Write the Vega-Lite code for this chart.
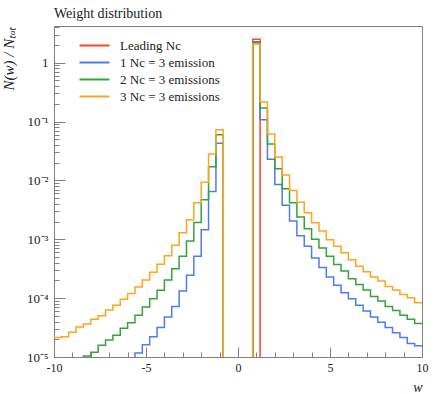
{
  "$schema": "https://vega.github.io/schema/vega-lite/v6.json",
  "width": 368,
  "height": 331,
  "autosize": "none",
  "padding": {"left": 54, "top": 26, "right": 14, "bottom": 37},
  "background": "white",
  "title": {"text": "Weight distribution", "anchor": "start", "frame": "group", "font": "Liberation Serif", "fontSize": 14, "fontWeight": "normal", "offset": 0, "color": "#222222"},
  "config": {"view": {"stroke": "#808080", "strokeWidth": 1}, "font": "Liberation Serif"},
  "data": {"values": [
    {"x": -10, "lead": 1e-7, "one": 1e-7, "two": 1e-7, "three": 2.14e-5},
    {"x": -9.6, "lead": 1e-7, "one": 1e-7, "two": 1e-7, "three": 2.21e-5},
    {"x": -9.2, "lead": 1e-7, "one": 1e-7, "two": 1e-7, "three": 2.63e-5},
    {"x": -8.8, "lead": 1e-7, "one": 1e-7, "two": 1e-7, "three": 3.24e-5},
    {"x": -8.4, "lead": 1e-7, "one": 1e-7, "two": 1.035e-5, "three": 3.63e-5},
    {"x": -8.0, "lead": 1e-7, "one": 1e-7, "two": 1.2e-5, "three": 4.37e-5},
    {"x": -7.6, "lead": 1e-7, "one": 1e-7, "two": 1.58e-5, "three": 5.01e-5},
    {"x": -7.2, "lead": 1e-7, "one": 1e-7, "two": 1.95e-5, "three": 6.31e-5},
    {"x": -6.8, "lead": 1e-7, "one": 1e-7, "two": 2.34e-5, "three": 7.59e-5},
    {"x": -6.4, "lead": 1e-7, "one": 1e-7, "two": 3.09e-5, "three": 9.55e-5},
    {"x": -6.0, "lead": 1e-7, "one": 1e-7, "two": 3.8e-5, "three": 1.2e-4},
    {"x": -5.6, "lead": 1e-7, "one": 1.17e-5, "two": 5.13e-5, "three": 1.55e-4},
    {"x": -5.2, "lead": 1e-7, "one": 1.62e-5, "two": 7.08e-5, "three": 2.04e-4},
    {"x": -4.8, "lead": 1e-7, "one": 2.21e-5, "two": 9.77e-5, "three": 2.75e-4},
    {"x": -4.4, "lead": 1e-7, "one": 3.16e-5, "two": 1.36e-4, "three": 3.76e-4},
    {"x": -4.0, "lead": 1e-7, "one": 4.79e-5, "two": 2.04e-4, "three": 5.25e-4},
    {"x": -3.6, "lead": 1e-7, "one": 7.24e-5, "two": 3.16e-4, "three": 7.94e-4},
    {"x": -3.2, "lead": 1e-7, "one": 1.32e-4, "two": 5.13e-4, "three": 1.29e-3},
    {"x": -2.8, "lead": 1e-7, "one": 2.45e-4, "two": 9.33e-4, "three": 2.14e-3},
    {"x": -2.4, "lead": 1e-7, "one": 5.13e-4, "two": 1.93e-3, "three": 4.17e-3},
    {"x": -2.0, "lead": 1e-7, "one": 1.45e-3, "two": 4.68e-3, "three": 9.33e-3},
    {"x": -1.6, "lead": 1e-7, "one": 6.46e-3, "two": 1.7e-2, "three": 2.82e-2},
    {"x": -1.2, "lead": 1e-7, "one": 4.27e-2, "two": 5.96e-2, "three": 7.24e-2},
    {"x": -0.8, "lead": 1e-7, "one": 1e-7, "two": 1e-7, "three": 1e-7},
    {"x": 0.8, "lead": 2.5, "one": 2.27, "two": 2.19, "three": 2.08},
    {"x": 1.2, "lead": 1e-7, "one": 0.107, "two": 0.17, "three": 0.214},
    {"x": 1.6, "lead": 1e-7, "one": 0.0229, "two": 0.0417, "three": 0.0617},
    {"x": 2.0, "lead": 1e-7, "one": 8.51e-3, "two": 0.0158, "three": 0.0251},
    {"x": 2.4, "lead": 1e-7, "one": 3.8e-3, "two": 7.24e-3, "three": 0.0123},
    {"x": 2.8, "lead": 1e-7, "one": 2.04e-3, "two": 4.17e-3, "three": 6.76e-3},
    {"x": 3.2, "lead": 1e-7, "one": 1.15e-3, "two": 2.4e-3, "three": 4.27e-3},
    {"x": 3.6, "lead": 1e-7, "one": 7.59e-4, "two": 1.51e-3, "three": 2.82e-3},
    {"x": 4.0, "lead": 1e-7, "one": 4.79e-4, "two": 1.0e-3, "three": 1.91e-3},
    {"x": 4.4, "lead": 1e-7, "one": 3.31e-4, "two": 7.08e-4, "three": 1.38e-3},
    {"x": 4.8, "lead": 1e-7, "one": 2.29e-4, "two": 5.13e-4, "three": 9.77e-4},
    {"x": 5.2, "lead": 1e-7, "one": 1.66e-4, "two": 3.72e-4, "three": 7.59e-4},
    {"x": 5.6, "lead": 1e-7, "one": 1.23e-4, "two": 2.88e-4, "three": 5.89e-4},
    {"x": 6.0, "lead": 1e-7, "one": 9.77e-5, "two": 2.14e-4, "three": 4.47e-4},
    {"x": 6.4, "lead": 1e-7, "one": 7.59e-5, "two": 1.7e-4, "three": 3.47e-4},
    {"x": 6.8, "lead": 1e-7, "one": 6.03e-5, "two": 1.38e-4, "three": 2.82e-4},
    {"x": 7.2, "lead": 1e-7, "one": 4.79e-5, "two": 1.07e-4, "three": 2.29e-4},
    {"x": 7.6, "lead": 1e-7, "one": 3.89e-5, "two": 8.91e-5, "three": 1.95e-4},
    {"x": 8.0, "lead": 1e-7, "one": 3.16e-5, "two": 7.24e-5, "three": 1.58e-4},
    {"x": 8.4, "lead": 1e-7, "one": 2.57e-5, "two": 6.17e-5, "three": 1.38e-4},
    {"x": 8.8, "lead": 1e-7, "one": 2.14e-5, "two": 5.13e-5, "three": 1.15e-4},
    {"x": 9.2, "lead": 1e-7, "one": 1.7e-5, "two": 4.37e-5, "three": 1.02e-4},
    {"x": 9.6, "lead": 1e-7, "one": 1.55e-5, "two": 3.72e-5, "three": 8.32e-5},
    {"x": 10, "lead": 1e-7, "one": 1.55e-5, "two": 3.72e-5, "three": 8.32e-5}
  ]},
  "transform": [{"fold": ["lead", "one", "two", "three"], "as": ["series", "v"]}],
  "mark": {"type": "line", "interpolate": "step-after", "clip": true, "strokeWidth": 1.5},
  "encoding": {
    "x": {
      "field": "x", "type": "quantitative",
      "scale": {"domain": [-10, 10], "nice": false, "zero": false},
      "axis": {
        "values": [-10, -9, -8, -7, -6, -5, -4, -3, -2, -1, 0, 1, 2, 3, 4, 5, 6, 7, 8, 9, 10],
        "labelExpr": "datum.value % 5 == 0 ? '' + datum.value : ''",
        "tickSize": {"condition": {"test": "datum.value % 5 == 0", "value": -10}, "value": -5},
        "grid": false, "domainColor": "#808080", "tickColor": "#808080",
        "labelFont": "Liberation Serif", "labelFontSize": 12, "labelColor": "#222222", "labelPadding": 15,
        "labelOverlap": false, "labelFlush": false,
        "title": "w", "titleFont": "Liberation Serif", "titleFontStyle": "italic", "titleFontWeight": "normal",
        "titleFontSize": 14, "titleColor": "#222222", "titleAnchor": "end", "titlePadding": 2
      }
    },
    "y": {
      "field": "v", "type": "quantitative",
      "scale": {"type": "log", "domain": [1e-5, 4.2], "nice": false},
      "axis": {
        "values": [1e-5, 2e-5, 3e-5, 4e-5, 5e-5, 6e-5, 7e-5, 8e-5, 9e-5, 1e-4, 2e-4, 3e-4, 4e-4, 5e-4, 6e-4, 7e-4, 8e-4, 9e-4, 1e-3, 2e-3, 3e-3, 4e-3, 5e-3, 6e-3, 7e-3, 8e-3, 9e-3, 0.01, 0.02, 0.03, 0.04, 0.05, 0.06, 0.07, 0.08, 0.09, 0.1, 0.2, 0.3, 0.4, 0.5, 0.6, 0.7, 0.8, 0.9, 1, 2, 3, 4],
        "labelExpr": "abs(log(datum.value)/LN10 - round(log(datum.value)/LN10)) < 0.01 ? ['1','10⁻¹','10⁻²','10⁻³','10⁻⁴','10⁻⁵'][-round(log(datum.value)/LN10)] : ''",
        "tickSize": {"condition": {"test": "abs(log(datum.value)/LN10 - round(log(datum.value)/LN10)) < 0.01", "value": -11}, "value": -5},
        "grid": false, "domainColor": "#808080", "tickColor": "#808080",
        "labelFont": "Liberation Serif", "labelFontSize": 13, "labelColor": "#222222", "labelPadding": 17,
        "labelOverlap": false, "labelBound": false, "labelFlush": false,
        "title": "N(w) / Nₜₒₜ", "titleFont": "Liberation Serif", "titleFontStyle": "italic", "titleFontWeight": "normal",
        "titleFontSize": 15, "titleColor": "#222222", "titleAnchor": "end", "titlePadding": 10
      }
    },
    "color": {
      "field": "series", "type": "nominal",
      "scale": {"domain": ["lead", "one", "two", "three"], "range": ["#f2492f", "#4d7cf0", "#36a23a", "#ffa41e"]},
      "legend": {
        "orient": "none", "legendX": 24, "legendY": 13, "title": null, "padding": 0,
        "symbolType": "M-1,0H5", "symbolSize": 100, "symbolStrokeWidth": 2,
        "labelFont": "Liberation Serif", "labelFontSize": 13, "labelColor": "#222222", "labelOffset": 29,
        "rowPadding": 3,
        "labelExpr": "datum.value == 'lead' ? 'Leading Nc' : datum.value == 'one' ? '1 Nc = 3 emission' : datum.value == 'two' ? '2 Nc = 3 emissions' : '3 Nc = 3 emissions'"
      }
    }
  }
}
